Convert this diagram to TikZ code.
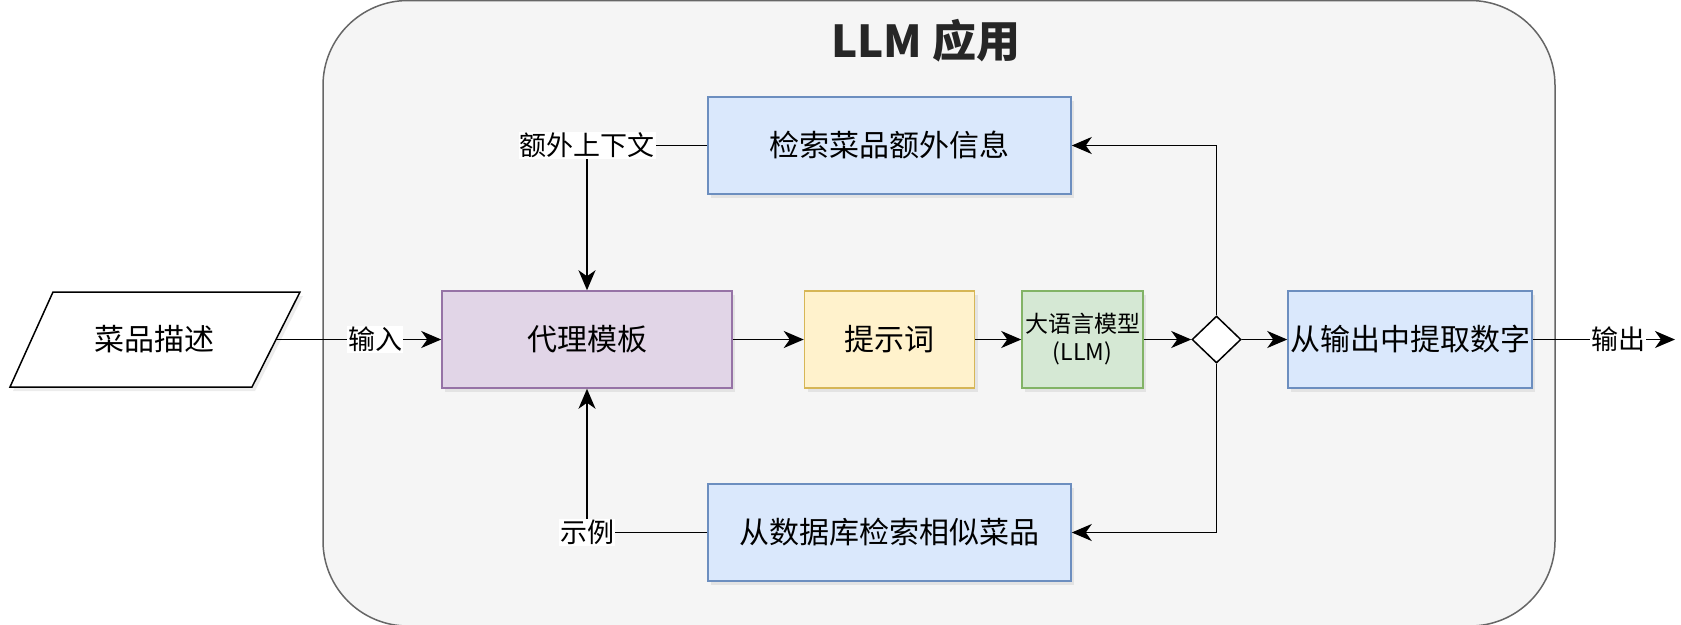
\documentclass[tikz,border=0pt]{standalone}
\usepackage{fontspec}
\setmainfont{Noto Sans CJK SC}
\usepackage{tikz}
\usetikzlibrary{arrows.meta,positioning,shapes.geometric,shadows}
\usepackage{xcolor}
\definecolor{cFrame}{HTML}{F5F5F5}
\definecolor{cFrameLine}{HTML}{666666}
\definecolor{cTpl}{HTML}{E1D5E7}
\definecolor{cTplLine}{HTML}{9673A6}
\definecolor{cPrompt}{HTML}{FFF2CC}
\definecolor{cPromptLine}{HTML}{D6B656}
\definecolor{cLlm}{HTML}{D5E8D4}
\definecolor{cLlmLine}{HTML}{82B366}
\definecolor{cStep}{HTML}{DAE8FC}
\definecolor{cStepLine}{HTML}{6C8EBF}

\begin{document}
\begin{tikzpicture}[
  x=1pt, y=-1pt,
  blk/.style={rectangle, line width=1.5pt, align=center, inner sep=2pt,
    minimum height=97pt, font=\fontsize{30}{36}\selectfont,
    drop shadow={shadow xshift=3pt, shadow yshift=-4pt, opacity=0.15}},
  tplbox/.style={blk, draw=cTplLine, fill=cTpl},
  promptbox/.style={blk, draw=cPromptLine, fill=cPrompt},
  llmbox/.style={blk, draw=cLlmLine, fill=cLlm, font=\fontsize{23}{28}\selectfont},
  stepbox/.style={blk, draw=cStepLine, fill=cStep},
  para/.style={draw=black, fill=white, line width=1.5pt,
    drop shadow={shadow xshift=3pt, shadow yshift=-4pt, opacity=0.15}},
  inbox/.style={rectangle, inner sep=0pt, minimum width=244pt, minimum height=95pt,
    font=\fontsize{30}{36}\selectfont},
  gate/.style={diamond, draw=black, fill=white, line width=1.5pt, inner sep=0pt,
    minimum width=49pt, minimum height=47pt},
  lbl/.style={fill=white, inner sep=1pt, font=\fontsize{27}{32}\selectfont},
  arr/.style={-{Stealth[length=20pt, width=17pt, inset=6pt]}, line width=1.7pt},
]
\useasboundingbox (0,0) rectangle (1681,624);
\draw[cFrameLine, fill=cFrame, line width=1.5pt, rounded corners=85pt]
  (323,0.5) rectangle (1555,626);
\node[font=\fontsize{44}{50}\selectfont\bfseries, text=black!85] (ttl) at (926,41) {LLM 应用};

\draw[para] (53,292) -- (300,292) -- (252,387) -- (10,387) -- cycle;
\node[inbox] (desc) at (154,339.5) {菜品描述};

\node[tplbox, minimum width=290pt] (tpl) at (587,339.5) {代理模板};
\node[promptbox, minimum width=170pt, right=71pt of tpl] (prompt) {提示词};
\node[llmbox, minimum width=121pt, right=46pt of prompt] (llm) {大语言模型\\(LLM)};
\node[gate, right=47.5pt of llm] (dia) {};
\node[stepbox, minimum width=244pt, right=45.5pt of dia] (extract) {从输出中提取数字};
\node[stepbox, minimum width=363pt] (info) at (889.5,145.5) {检索菜品额外信息};
\node[stepbox, minimum width=363pt] (similar) at (889.5,532.5) {从数据库检索相似菜品};
\coordinate (out) at (1675,339.5);

\draw[arr] (desc) -- node[lbl, pos=0.6] {输入} (tpl);
\draw[arr] (tpl) -- (prompt);
\draw[arr] (prompt) -- (llm);
\draw[arr] (llm) -- (dia);
\draw[arr] (dia) -- (extract);
\draw[arr] (extract) -- node[lbl, pos=0.6] {输出} (out);
\draw[arr] (dia.north) |- (info.east);
\draw[arr] (dia.south) |- (similar.east);
\draw[arr] (info.west) -| node[lbl, pos=0.5] {额外上下文} (tpl.north);
\draw[arr] (similar.west) -| node[lbl, pos=0.5] {示例} (tpl.south);
\end{tikzpicture}
\end{document}
